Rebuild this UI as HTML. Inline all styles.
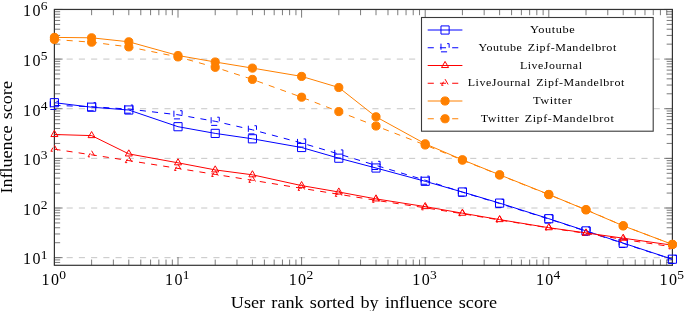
<!DOCTYPE html>
<html><head><meta charset="utf-8"><style>
html,body{margin:0;padding:0;background:#fff;}
svg{display:block;will-change:transform;}
text{font-family:"Liberation Serif",serif;fill:#000;}
.tl{font-size:16px;}
.sup{font-size:13.5px;}
.ax{font-size:16px;word-spacing:1.5px;}
.lg{font-size:9.8px;letter-spacing:0.45px;word-spacing:1.5px;}
</style></head><body>
<svg width="685" height="311" viewBox="0 0 685 311">
<line x1="54.4" y1="257.65" x2="672.4" y2="257.65" stroke="#c0c0c0" stroke-width="0.9" stroke-dasharray="6.115 6.115"/>
<line x1="54.4" y1="208.01" x2="672.4" y2="208.01" stroke="#c0c0c0" stroke-width="0.9" stroke-dasharray="6.115 6.115"/>
<line x1="54.4" y1="158.37" x2="672.4" y2="158.37" stroke="#c0c0c0" stroke-width="0.9" stroke-dasharray="6.115 6.115"/>
<line x1="54.4" y1="108.73" x2="672.4" y2="108.73" stroke="#c0c0c0" stroke-width="0.9" stroke-dasharray="6.115 6.115"/>
<line x1="54.4" y1="59.09" x2="672.4" y2="59.09" stroke="#c0c0c0" stroke-width="0.9" stroke-dasharray="6.115 6.115"/>
<path d="M54.4,262.46h5.75M672.4,262.46h-5.75M54.4,259.92h5.75M672.4,259.92h-5.75M54.4,257.65h8.2M672.4,257.65h-8.2M54.4,242.71h5.75M672.4,242.71h-5.75M54.4,233.97h5.75M672.4,233.97h-5.75M54.4,227.76h5.75M672.4,227.76h-5.75M54.4,222.95h5.75M672.4,222.95h-5.75M54.4,219.02h5.75M672.4,219.02h-5.75M54.4,215.70h5.75M672.4,215.70h-5.75M54.4,212.82h5.75M672.4,212.82h-5.75M54.4,210.28h5.75M672.4,210.28h-5.75M54.4,208.01h8.2M672.4,208.01h-8.2M54.4,193.07h5.75M672.4,193.07h-5.75M54.4,184.33h5.75M672.4,184.33h-5.75M54.4,178.12h5.75M672.4,178.12h-5.75M54.4,173.31h5.75M672.4,173.31h-5.75M54.4,169.38h5.75M672.4,169.38h-5.75M54.4,166.06h5.75M672.4,166.06h-5.75M54.4,163.18h5.75M672.4,163.18h-5.75M54.4,160.64h5.75M672.4,160.64h-5.75M54.4,158.37h8.2M672.4,158.37h-8.2M54.4,143.43h5.75M672.4,143.43h-5.75M54.4,134.69h5.75M672.4,134.69h-5.75M54.4,128.48h5.75M672.4,128.48h-5.75M54.4,123.67h5.75M672.4,123.67h-5.75M54.4,119.74h5.75M672.4,119.74h-5.75M54.4,116.42h5.75M672.4,116.42h-5.75M54.4,113.54h5.75M672.4,113.54h-5.75M54.4,111.00h5.75M672.4,111.00h-5.75M54.4,108.73h8.2M672.4,108.73h-8.2M54.4,93.79h5.75M672.4,93.79h-5.75M54.4,85.05h5.75M672.4,85.05h-5.75M54.4,78.84h5.75M672.4,78.84h-5.75M54.4,74.03h5.75M672.4,74.03h-5.75M54.4,70.10h5.75M672.4,70.10h-5.75M54.4,66.78h5.75M672.4,66.78h-5.75M54.4,63.90h5.75M672.4,63.90h-5.75M54.4,61.36h5.75M672.4,61.36h-5.75M54.4,59.09h8.2M672.4,59.09h-8.2M54.4,44.15h5.75M672.4,44.15h-5.75M54.4,35.41h5.75M672.4,35.41h-5.75M54.4,29.20h5.75M672.4,29.20h-5.75M54.4,24.39h5.75M672.4,24.39h-5.75M54.4,20.46h5.75M672.4,20.46h-5.75M54.4,17.14h5.75M672.4,17.14h-5.75M54.4,14.26h5.75M672.4,14.26h-5.75M54.4,11.72h5.75M672.4,11.72h-5.75M54.4,9.45h8.2M672.4,9.45h-8.2M54.40,265.3v-8.2M54.40,9.45v8.2M91.61,265.3v-5.75M91.61,9.45v5.75M113.37,265.3v-5.75M113.37,9.45v5.75M128.81,265.3v-5.75M128.81,9.45v5.75M140.79,265.3v-5.75M140.79,9.45v5.75M150.58,265.3v-5.75M150.58,9.45v5.75M158.85,265.3v-5.75M158.85,9.45v5.75M166.02,265.3v-5.75M166.02,9.45v5.75M172.34,265.3v-5.75M172.34,9.45v5.75M178.00,265.3v-8.2M178.00,9.45v8.2M215.21,265.3v-5.75M215.21,9.45v5.75M236.97,265.3v-5.75M236.97,9.45v5.75M252.41,265.3v-5.75M252.41,9.45v5.75M264.39,265.3v-5.75M264.39,9.45v5.75M274.18,265.3v-5.75M274.18,9.45v5.75M282.45,265.3v-5.75M282.45,9.45v5.75M289.62,265.3v-5.75M289.62,9.45v5.75M295.94,265.3v-5.75M295.94,9.45v5.75M301.60,265.3v-8.2M301.60,9.45v8.2M338.81,265.3v-5.75M338.81,9.45v5.75M360.57,265.3v-5.75M360.57,9.45v5.75M376.01,265.3v-5.75M376.01,9.45v5.75M387.99,265.3v-5.75M387.99,9.45v5.75M397.78,265.3v-5.75M397.78,9.45v5.75M406.05,265.3v-5.75M406.05,9.45v5.75M413.22,265.3v-5.75M413.22,9.45v5.75M419.54,265.3v-5.75M419.54,9.45v5.75M425.20,265.3v-8.2M425.20,9.45v8.2M462.41,265.3v-5.75M462.41,9.45v5.75M484.17,265.3v-5.75M484.17,9.45v5.75M499.61,265.3v-5.75M499.61,9.45v5.75M511.59,265.3v-5.75M511.59,9.45v5.75M521.38,265.3v-5.75M521.38,9.45v5.75M529.65,265.3v-5.75M529.65,9.45v5.75M536.82,265.3v-5.75M536.82,9.45v5.75M543.14,265.3v-5.75M543.14,9.45v5.75M548.80,265.3v-8.2M548.80,9.45v8.2M586.01,265.3v-5.75M586.01,9.45v5.75M607.77,265.3v-5.75M607.77,9.45v5.75M623.21,265.3v-5.75M623.21,9.45v5.75M635.19,265.3v-5.75M635.19,9.45v5.75M644.98,265.3v-5.75M644.98,9.45v5.75M653.25,265.3v-5.75M653.25,9.45v5.75M660.42,265.3v-5.75M660.42,9.45v5.75M666.74,265.3v-5.75M666.74,9.45v5.75M672.40,265.3v-8.2M672.40,9.45v8.2" stroke="#333" stroke-width="0.65" fill="none"/>
<rect x="54.4" y="9.45" width="618.0" height="255.85000000000002" fill="none" stroke="#333" stroke-width="1.2"/>
<polyline points="54.40,102.70 91.61,107.20 128.81,110.00 178.00,126.70 215.21,133.40 252.41,138.80 301.60,147.50 338.81,158.20 376.01,168.00 425.20,181.30 462.41,192.00 499.61,203.10 548.80,218.70 586.01,230.90 623.21,243.10 672.40,259.20" fill="none" stroke="#0000ff" stroke-width="1.0" stroke-linejoin="round"/>
<path d="M50.32,106.78H58.48V98.62H50.32Z" fill="none" stroke="#0000ff" stroke-width="1.0"/>
<path d="M87.53,111.28H95.69V103.12H87.53Z" fill="none" stroke="#0000ff" stroke-width="1.0"/>
<path d="M124.73,114.08H132.89V105.92H124.73Z" fill="none" stroke="#0000ff" stroke-width="1.0"/>
<path d="M173.92,130.78H182.08V122.62H173.92Z" fill="none" stroke="#0000ff" stroke-width="1.0"/>
<path d="M211.13,137.48H219.29V129.32H211.13Z" fill="none" stroke="#0000ff" stroke-width="1.0"/>
<path d="M248.33,142.88H256.49V134.72H248.33Z" fill="none" stroke="#0000ff" stroke-width="1.0"/>
<path d="M297.52,151.58H305.68V143.42H297.52Z" fill="none" stroke="#0000ff" stroke-width="1.0"/>
<path d="M334.73,162.28H342.89V154.12H334.73Z" fill="none" stroke="#0000ff" stroke-width="1.0"/>
<path d="M371.93,172.08H380.09V163.92H371.93Z" fill="none" stroke="#0000ff" stroke-width="1.0"/>
<path d="M421.12,185.38H429.28V177.22H421.12Z" fill="none" stroke="#0000ff" stroke-width="1.0"/>
<path d="M458.33,196.08H466.49V187.92H458.33Z" fill="none" stroke="#0000ff" stroke-width="1.0"/>
<path d="M495.53,207.18H503.69V199.02H495.53Z" fill="none" stroke="#0000ff" stroke-width="1.0"/>
<path d="M544.72,222.78H552.88V214.62H544.72Z" fill="none" stroke="#0000ff" stroke-width="1.0"/>
<path d="M581.93,234.98H590.09V226.82H581.93Z" fill="none" stroke="#0000ff" stroke-width="1.0"/>
<path d="M619.13,247.18H627.29V239.02H619.13Z" fill="none" stroke="#0000ff" stroke-width="1.0"/>
<path d="M668.32,263.28H676.48V255.12H668.32Z" fill="none" stroke="#0000ff" stroke-width="1.0"/>
<polyline points="54.40,105.40 91.61,106.70 128.81,109.10 178.00,114.80 215.21,121.30 252.41,129.80 301.60,143.00 338.81,154.00 376.01,165.40 425.20,180.20 462.41,192.20 499.61,203.50 548.80,219.00 586.01,231.20 623.21,243.40 672.40,259.40" fill="none" stroke="#0000ff" stroke-width="1.0" stroke-dasharray="6.115 6.115" stroke-linejoin="round"/>
<path d="M50.32,109.48H58.48V101.32H50.32Z" fill="none" stroke="#0000ff" stroke-width="1.0" stroke-dasharray="6.115 6.115"/>
<path d="M87.53,110.78H95.69V102.62H87.53Z" fill="none" stroke="#0000ff" stroke-width="1.0" stroke-dasharray="6.115 6.115"/>
<path d="M124.73,113.18H132.89V105.02H124.73Z" fill="none" stroke="#0000ff" stroke-width="1.0" stroke-dasharray="6.115 6.115"/>
<path d="M173.92,118.88H182.08V110.72H173.92Z" fill="none" stroke="#0000ff" stroke-width="1.0" stroke-dasharray="6.115 6.115"/>
<path d="M211.13,125.38H219.29V117.22H211.13Z" fill="none" stroke="#0000ff" stroke-width="1.0" stroke-dasharray="6.115 6.115"/>
<path d="M248.33,133.88H256.49V125.72H248.33Z" fill="none" stroke="#0000ff" stroke-width="1.0" stroke-dasharray="6.115 6.115"/>
<path d="M297.52,147.08H305.68V138.92H297.52Z" fill="none" stroke="#0000ff" stroke-width="1.0" stroke-dasharray="6.115 6.115"/>
<path d="M334.73,158.08H342.89V149.92H334.73Z" fill="none" stroke="#0000ff" stroke-width="1.0" stroke-dasharray="6.115 6.115"/>
<path d="M371.93,169.48H380.09V161.32H371.93Z" fill="none" stroke="#0000ff" stroke-width="1.0" stroke-dasharray="6.115 6.115"/>
<path d="M421.12,184.28H429.28V176.12H421.12Z" fill="none" stroke="#0000ff" stroke-width="1.0" stroke-dasharray="6.115 6.115"/>
<path d="M458.33,196.28H466.49V188.12H458.33Z" fill="none" stroke="#0000ff" stroke-width="1.0" stroke-dasharray="6.115 6.115"/>
<path d="M495.53,207.58H503.69V199.42H495.53Z" fill="none" stroke="#0000ff" stroke-width="1.0" stroke-dasharray="6.115 6.115"/>
<path d="M544.72,223.08H552.88V214.92H544.72Z" fill="none" stroke="#0000ff" stroke-width="1.0" stroke-dasharray="6.115 6.115"/>
<path d="M581.93,235.28H590.09V227.12H581.93Z" fill="none" stroke="#0000ff" stroke-width="1.0" stroke-dasharray="6.115 6.115"/>
<path d="M619.13,247.48H627.29V239.32H619.13Z" fill="none" stroke="#0000ff" stroke-width="1.0" stroke-dasharray="6.115 6.115"/>
<path d="M668.32,263.48H676.48V255.32H668.32Z" fill="none" stroke="#0000ff" stroke-width="1.0" stroke-dasharray="6.115 6.115"/>
<polyline points="54.40,134.50 91.61,135.60 128.81,153.90 178.00,162.80 215.21,169.90 252.41,174.80 301.60,185.60 338.81,192.00 376.01,198.90 425.20,206.60 462.41,213.20 499.61,219.60 548.80,227.70 586.01,232.90 623.21,238.20 672.40,245.20" fill="none" stroke="#ff0000" stroke-width="1.0" stroke-linejoin="round"/>
<path d="M54.40,130.42L57.93,136.54L50.87,136.54Z" fill="none" stroke="#ff0000" stroke-width="1.0"/>
<path d="M91.61,131.52L95.14,137.64L88.07,137.64Z" fill="none" stroke="#ff0000" stroke-width="1.0"/>
<path d="M128.81,149.82L132.35,155.94L125.28,155.94Z" fill="none" stroke="#ff0000" stroke-width="1.0"/>
<path d="M178.00,158.72L181.53,164.84L174.47,164.84Z" fill="none" stroke="#ff0000" stroke-width="1.0"/>
<path d="M215.21,165.82L218.74,171.94L211.67,171.94Z" fill="none" stroke="#ff0000" stroke-width="1.0"/>
<path d="M252.41,170.72L255.95,176.84L248.88,176.84Z" fill="none" stroke="#ff0000" stroke-width="1.0"/>
<path d="M301.60,181.52L305.13,187.64L298.07,187.64Z" fill="none" stroke="#ff0000" stroke-width="1.0"/>
<path d="M338.81,187.92L342.34,194.04L335.27,194.04Z" fill="none" stroke="#ff0000" stroke-width="1.0"/>
<path d="M376.01,194.82L379.55,200.94L372.48,200.94Z" fill="none" stroke="#ff0000" stroke-width="1.0"/>
<path d="M425.20,202.52L428.73,208.64L421.67,208.64Z" fill="none" stroke="#ff0000" stroke-width="1.0"/>
<path d="M462.41,209.12L465.94,215.24L458.87,215.24Z" fill="none" stroke="#ff0000" stroke-width="1.0"/>
<path d="M499.61,215.52L503.15,221.64L496.08,221.64Z" fill="none" stroke="#ff0000" stroke-width="1.0"/>
<path d="M548.80,223.62L552.33,229.74L545.27,229.74Z" fill="none" stroke="#ff0000" stroke-width="1.0"/>
<path d="M586.01,228.82L589.54,234.94L582.47,234.94Z" fill="none" stroke="#ff0000" stroke-width="1.0"/>
<path d="M623.21,234.12L626.75,240.24L619.68,240.24Z" fill="none" stroke="#ff0000" stroke-width="1.0"/>
<path d="M672.40,241.12L675.93,247.24L668.87,247.24Z" fill="none" stroke="#ff0000" stroke-width="1.0"/>
<polyline points="54.40,149.20 91.61,154.80 128.81,160.60 178.00,168.40 215.21,174.40 252.41,180.30 301.60,188.30 338.81,194.30 376.01,200.30 425.20,207.80 462.41,213.70 499.61,220.00 548.80,227.90 586.01,233.40 623.21,239.40 672.40,246.80" fill="none" stroke="#ff0000" stroke-width="1.0" stroke-dasharray="6.115 6.115" stroke-linejoin="round"/>
<path d="M54.40,145.12L57.93,151.24L50.87,151.24Z" fill="none" stroke="#ff0000" stroke-width="1.0" stroke-dasharray="6.115 6.115"/>
<path d="M91.61,150.72L95.14,156.84L88.07,156.84Z" fill="none" stroke="#ff0000" stroke-width="1.0" stroke-dasharray="6.115 6.115"/>
<path d="M128.81,156.52L132.35,162.64L125.28,162.64Z" fill="none" stroke="#ff0000" stroke-width="1.0" stroke-dasharray="6.115 6.115"/>
<path d="M178.00,164.32L181.53,170.44L174.47,170.44Z" fill="none" stroke="#ff0000" stroke-width="1.0" stroke-dasharray="6.115 6.115"/>
<path d="M215.21,170.32L218.74,176.44L211.67,176.44Z" fill="none" stroke="#ff0000" stroke-width="1.0" stroke-dasharray="6.115 6.115"/>
<path d="M252.41,176.22L255.95,182.34L248.88,182.34Z" fill="none" stroke="#ff0000" stroke-width="1.0" stroke-dasharray="6.115 6.115"/>
<path d="M301.60,184.22L305.13,190.34L298.07,190.34Z" fill="none" stroke="#ff0000" stroke-width="1.0" stroke-dasharray="6.115 6.115"/>
<path d="M338.81,190.22L342.34,196.34L335.27,196.34Z" fill="none" stroke="#ff0000" stroke-width="1.0" stroke-dasharray="6.115 6.115"/>
<path d="M376.01,196.22L379.55,202.34L372.48,202.34Z" fill="none" stroke="#ff0000" stroke-width="1.0" stroke-dasharray="6.115 6.115"/>
<path d="M425.20,203.72L428.73,209.84L421.67,209.84Z" fill="none" stroke="#ff0000" stroke-width="1.0" stroke-dasharray="6.115 6.115"/>
<path d="M462.41,209.62L465.94,215.74L458.87,215.74Z" fill="none" stroke="#ff0000" stroke-width="1.0" stroke-dasharray="6.115 6.115"/>
<path d="M499.61,215.92L503.15,222.04L496.08,222.04Z" fill="none" stroke="#ff0000" stroke-width="1.0" stroke-dasharray="6.115 6.115"/>
<path d="M548.80,223.82L552.33,229.94L545.27,229.94Z" fill="none" stroke="#ff0000" stroke-width="1.0" stroke-dasharray="6.115 6.115"/>
<path d="M586.01,229.32L589.54,235.44L582.47,235.44Z" fill="none" stroke="#ff0000" stroke-width="1.0" stroke-dasharray="6.115 6.115"/>
<path d="M623.21,235.32L626.75,241.44L619.68,241.44Z" fill="none" stroke="#ff0000" stroke-width="1.0" stroke-dasharray="6.115 6.115"/>
<path d="M672.40,242.72L675.93,248.84L668.87,248.84Z" fill="none" stroke="#ff0000" stroke-width="1.0" stroke-dasharray="6.115 6.115"/>
<polyline points="54.40,37.40 91.61,37.80 128.81,41.80 178.00,55.50 215.21,62.00 252.41,68.10 301.60,76.40 338.81,87.50 376.01,116.80 425.20,143.80 462.41,159.80 499.61,174.80 548.80,194.40 586.01,209.90 623.21,225.80 672.40,244.40" fill="none" stroke="#ff8000" stroke-width="1.0" stroke-linejoin="round"/>
<circle cx="54.40" cy="37.40" r="4.08" fill="#ff8000" stroke="#ff8000" stroke-width="1.0"/>
<circle cx="91.61" cy="37.80" r="4.08" fill="#ff8000" stroke="#ff8000" stroke-width="1.0"/>
<circle cx="128.81" cy="41.80" r="4.08" fill="#ff8000" stroke="#ff8000" stroke-width="1.0"/>
<circle cx="178.00" cy="55.50" r="4.08" fill="#ff8000" stroke="#ff8000" stroke-width="1.0"/>
<circle cx="215.21" cy="62.00" r="4.08" fill="#ff8000" stroke="#ff8000" stroke-width="1.0"/>
<circle cx="252.41" cy="68.10" r="4.08" fill="#ff8000" stroke="#ff8000" stroke-width="1.0"/>
<circle cx="301.60" cy="76.40" r="4.08" fill="#ff8000" stroke="#ff8000" stroke-width="1.0"/>
<circle cx="338.81" cy="87.50" r="4.08" fill="#ff8000" stroke="#ff8000" stroke-width="1.0"/>
<circle cx="376.01" cy="116.80" r="4.08" fill="#ff8000" stroke="#ff8000" stroke-width="1.0"/>
<circle cx="425.20" cy="143.80" r="4.08" fill="#ff8000" stroke="#ff8000" stroke-width="1.0"/>
<circle cx="462.41" cy="159.80" r="4.08" fill="#ff8000" stroke="#ff8000" stroke-width="1.0"/>
<circle cx="499.61" cy="174.80" r="4.08" fill="#ff8000" stroke="#ff8000" stroke-width="1.0"/>
<circle cx="548.80" cy="194.40" r="4.08" fill="#ff8000" stroke="#ff8000" stroke-width="1.0"/>
<circle cx="586.01" cy="209.90" r="4.08" fill="#ff8000" stroke="#ff8000" stroke-width="1.0"/>
<circle cx="623.21" cy="225.80" r="4.08" fill="#ff8000" stroke="#ff8000" stroke-width="1.0"/>
<circle cx="672.40" cy="244.40" r="4.08" fill="#ff8000" stroke="#ff8000" stroke-width="1.0"/>
<polyline points="54.40,39.50 91.61,42.20 128.81,46.90 178.00,56.90 215.21,67.30 252.41,79.40 301.60,97.20 338.81,111.60 376.01,126.00 425.20,145.00 462.41,160.10 499.61,175.00 548.80,194.70 586.01,209.60 623.21,225.80 672.40,244.40" fill="none" stroke="#ff8000" stroke-width="1.0" stroke-dasharray="6.115 6.115" stroke-linejoin="round"/>
<circle cx="54.40" cy="39.50" r="4.08" fill="#ff8000" stroke="#ff8000" stroke-width="1.0"/>
<circle cx="91.61" cy="42.20" r="4.08" fill="#ff8000" stroke="#ff8000" stroke-width="1.0"/>
<circle cx="128.81" cy="46.90" r="4.08" fill="#ff8000" stroke="#ff8000" stroke-width="1.0"/>
<circle cx="178.00" cy="56.90" r="4.08" fill="#ff8000" stroke="#ff8000" stroke-width="1.0"/>
<circle cx="215.21" cy="67.30" r="4.08" fill="#ff8000" stroke="#ff8000" stroke-width="1.0"/>
<circle cx="252.41" cy="79.40" r="4.08" fill="#ff8000" stroke="#ff8000" stroke-width="1.0"/>
<circle cx="301.60" cy="97.20" r="4.08" fill="#ff8000" stroke="#ff8000" stroke-width="1.0"/>
<circle cx="338.81" cy="111.60" r="4.08" fill="#ff8000" stroke="#ff8000" stroke-width="1.0"/>
<circle cx="376.01" cy="126.00" r="4.08" fill="#ff8000" stroke="#ff8000" stroke-width="1.0"/>
<circle cx="425.20" cy="145.00" r="4.08" fill="#ff8000" stroke="#ff8000" stroke-width="1.0"/>
<circle cx="462.41" cy="160.10" r="4.08" fill="#ff8000" stroke="#ff8000" stroke-width="1.0"/>
<circle cx="499.61" cy="175.00" r="4.08" fill="#ff8000" stroke="#ff8000" stroke-width="1.0"/>
<circle cx="548.80" cy="194.70" r="4.08" fill="#ff8000" stroke="#ff8000" stroke-width="1.0"/>
<circle cx="586.01" cy="209.60" r="4.08" fill="#ff8000" stroke="#ff8000" stroke-width="1.0"/>
<circle cx="623.21" cy="225.80" r="4.08" fill="#ff8000" stroke="#ff8000" stroke-width="1.0"/>
<circle cx="672.40" cy="244.40" r="4.08" fill="#ff8000" stroke="#ff8000" stroke-width="1.0"/>
<rect x="421.5" y="17.5" width="231.70000000000005" height="113.69999999999999" fill="#fff" stroke="#3a3a3a" stroke-width="1.1"/>
<line x1="427.7" y1="30" x2="462.4" y2="30" stroke="#0000ff" stroke-width="1.0"/>
<path d="M440.97,34.08H449.13V25.92H440.97Z" fill="none" stroke="#0000ff" stroke-width="1.0"/>
<text x="530.0" y="33.00" class="lg" textLength="45.299999999999955" lengthAdjust="spacingAndGlyphs">Youtube</text>
<line x1="427.7" y1="47.75" x2="462.4" y2="47.75" stroke="#0000ff" stroke-width="1.0" stroke-dasharray="6.115 6.115"/>
<path d="M440.97,51.83H449.13V43.67H440.97Z" fill="none" stroke="#0000ff" stroke-width="1.0" stroke-dasharray="6.115 6.115"/>
<text x="478.4" y="50.75" class="lg" textLength="138.39999999999998" lengthAdjust="spacingAndGlyphs">Youtube Zipf-Mandelbrot</text>
<line x1="427.7" y1="65.5" x2="462.4" y2="65.5" stroke="#ff0000" stroke-width="1.0"/>
<path d="M445.05,61.42L448.58,67.54L441.52,67.54Z" fill="none" stroke="#ff0000" stroke-width="1.0"/>
<text x="519.9" y="68.50" class="lg" textLength="62.60000000000002" lengthAdjust="spacingAndGlyphs">LiveJournal</text>
<line x1="427.7" y1="83.25" x2="462.4" y2="83.25" stroke="#ff0000" stroke-width="1.0" stroke-dasharray="6.115 6.115"/>
<path d="M445.05,79.17L448.58,85.29L441.52,85.29Z" fill="none" stroke="#ff0000" stroke-width="1.0" stroke-dasharray="6.115 6.115"/>
<text x="467.7" y="86.25" class="lg" textLength="157.09999999999997" lengthAdjust="spacingAndGlyphs">LiveJournal Zipf-Mandelbrot</text>
<line x1="427.7" y1="101" x2="462.4" y2="101" stroke="#ff8000" stroke-width="1.0"/>
<circle cx="445.05" cy="101.00" r="4.08" fill="#ff8000" stroke="#ff8000" stroke-width="1.0"/>
<text x="532.9" y="104.00" class="lg" textLength="39.700000000000045" lengthAdjust="spacingAndGlyphs">Twitter</text>
<line x1="427.7" y1="118.75" x2="462.4" y2="118.75" stroke="#ff8000" stroke-width="1.0" stroke-dasharray="6.115 6.115"/>
<circle cx="445.05" cy="118.75" r="4.08" fill="#ff8000" stroke="#ff8000" stroke-width="1.0"/>
<text x="480.7" y="121.75" class="lg" textLength="133.7" lengthAdjust="spacingAndGlyphs">Twitter Zipf-Mandelbrot</text>
<text x="23.09" y="264.45" class="tl">1<tspan dx="1.4">0</tspan><tspan class="sup" dx="0.3" dy="-5.8">1</tspan></text>
<text x="23.09" y="214.81" class="tl">1<tspan dx="1.4">0</tspan><tspan class="sup" dx="0.3" dy="-5.8">2</tspan></text>
<text x="23.09" y="165.17" class="tl">1<tspan dx="1.4">0</tspan><tspan class="sup" dx="0.3" dy="-5.8">3</tspan></text>
<text x="23.09" y="115.53" class="tl">1<tspan dx="1.4">0</tspan><tspan class="sup" dx="0.3" dy="-5.8">4</tspan></text>
<text x="23.09" y="65.89" class="tl">1<tspan dx="1.4">0</tspan><tspan class="sup" dx="0.3" dy="-5.8">5</tspan></text>
<text x="23.09" y="16.25" class="tl">1<tspan dx="1.4">0</tspan><tspan class="sup" dx="0.3" dy="-5.8">6</tspan></text>
<text x="41.49" y="284.70" class="tl">1<tspan dx="1.4">0</tspan><tspan class="sup" dx="0.3" dy="-5.8">0</tspan></text>
<text x="165.09" y="284.70" class="tl">1<tspan dx="1.4">0</tspan><tspan class="sup" dx="0.3" dy="-5.8">1</tspan></text>
<text x="288.69" y="284.70" class="tl">1<tspan dx="1.4">0</tspan><tspan class="sup" dx="0.3" dy="-5.8">2</tspan></text>
<text x="412.29" y="284.70" class="tl">1<tspan dx="1.4">0</tspan><tspan class="sup" dx="0.3" dy="-5.8">3</tspan></text>
<text x="535.89" y="284.70" class="tl">1<tspan dx="1.4">0</tspan><tspan class="sup" dx="0.3" dy="-5.8">4</tspan></text>
<text x="659.49" y="284.70" class="tl">1<tspan dx="1.4">0</tspan><tspan class="sup" dx="0.3" dy="-5.8">5</tspan></text>
<text x="230.8" y="307.6" class="ax" textLength="266.3" lengthAdjust="spacingAndGlyphs">User rank sorted by influence score</text>
<text transform="translate(11.8,193.6) rotate(-90)" class="ax" textLength="112.5" lengthAdjust="spacingAndGlyphs">Influence score</text>
</svg>
</body></html>
